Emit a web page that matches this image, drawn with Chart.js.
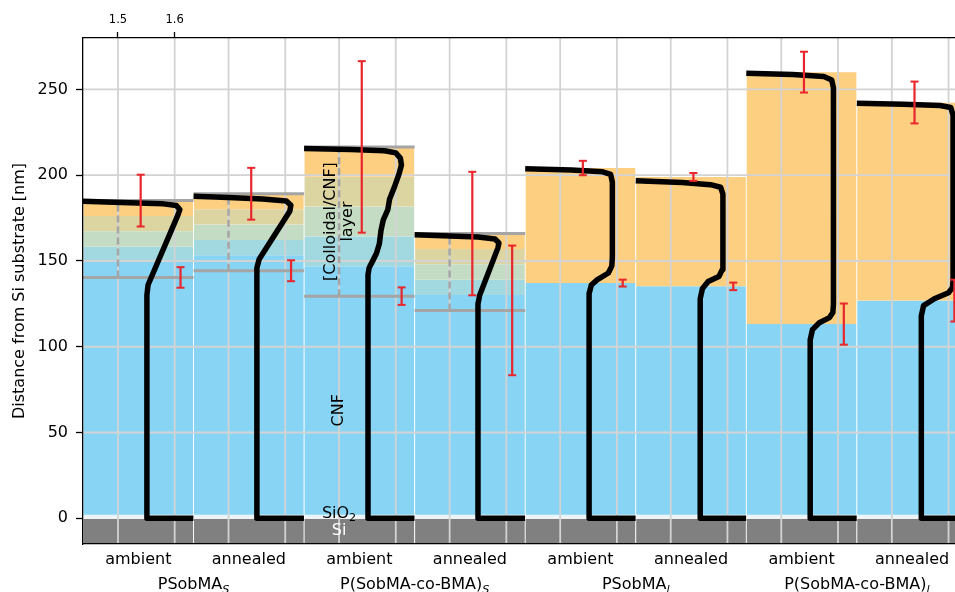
<!DOCTYPE html>
<html>
<head>
<meta charset="utf-8">
<script src="https://cdn.jsdelivr.net/npm/chart.js@4.4.0/dist/chart.umd.min.js"></script>
<style>
  html, body { margin: 0; padding: 0; background: #fff; overflow: hidden; }
  #wrap { width: 955px; height: 592px; }
</style>
</head>
<body>
<div id="wrap"><canvas id="profileChart" width="955" height="592"></canvas></div>
<script>
// one panel per sample, two conditions per polymer
const conditions = ['ambient', 'annealed', 'ambient', 'annealed', 'ambient', 'annealed', 'ambient', 'annealed'];
const polymers = ['PSobMA', 'P(SobMA-co-BMA)', 'PSobMA', 'P(SobMA-co-BMA)'];
const polymerSubs = ['S', 'S', 'l', 'l'];
const yTicks = [0, 50, 100, 150, 200, 250];
const nTicks = [1.5, 1.6];

// layer thicknesses in nm, with their errors
const cnfThick = [140.4, 144.3, 129.5, 121.2, 137.1, 135.2, 113.2, 126.9];
const cnfErr = [6.0, 6.1, 5.1, 37.8, 2.0, 2.2, 12.0, 12.2];
const totalThick = [185.2, 189.2, 216.5, 166.0, 204.2, 199.0, 260.1, 242.4];
const totalErr = [15.1, 15.1, 50.0, 36.0, 4.2, 2.3, 11.9, 12.2];
const graded = [true, true, true, true, false, false, false, false];
const sio2Thick = 2;

// refractive index profiles, [n, z in nm]
const prof1 = [[1.633, 0], [1.551, 0], [1.551, 130], [1.553, 136], [1.606, 177], [1.609, 180], [1.603, 182.3], [1.58, 183.3], [1.52, 184], [1.4383, 184.8]];
const prof2 = [[1.633, 0], [1.550, 0], [1.550, 146], [1.554, 151], [1.608, 179], [1.610, 182.5], [1.602, 185], [1.56, 186.2], [1.50, 187], [1.4383, 187.8]];
const prof3 = [[1.633, 0], [1.551, 0], [1.551, 142], [1.553, 146], [1.560, 150.5], [1.566, 154.5], [1.571, 160], [1.574, 168], [1.578, 174], [1.586, 180], [1.589, 186], [1.598, 193.5], [1.606, 201], [1.610, 206], [1.608, 210], [1.600, 213], [1.580, 214.3], [1.52, 215], [1.4383, 215.6]];
const prof4 = [[1.633, 0], [1.550, 0], [1.550, 125], [1.553, 130], [1.585, 157.5], [1.587, 160.5], [1.580, 162.8], [1.55, 164], [1.4383, 165.3]];
const prof5 = [[1.633, 0], [1.551, 0], [1.551, 131], [1.555, 136], [1.565, 139], [1.585, 143], [1.591, 147], [1.592, 152], [1.592, 196], [1.589, 200.5], [1.575, 202], [1.52, 203], [1.4383, 203.8]];
const prof6 = [[1.633, 0], [1.552, 0], [1.552, 128], [1.556, 134], [1.566, 138], [1.585, 141], [1.591, 145], [1.592, 150], [1.592, 189], [1.588, 193], [1.57, 194.5], [1.52, 195.8], [1.4383, 196.8]];
const prof7 = [[1.633, 0], [1.551, 0], [1.551, 104], [1.555, 110], [1.567, 114], [1.585, 117], [1.591, 120], [1.592, 125], [1.592, 251], [1.589, 255.5], [1.575, 257.5], [1.52, 258.7], [1.4383, 259.4]];
const prof8 = [[1.633, 0], [1.552, 0], [1.552, 118], [1.556, 124], [1.575, 128], [1.600, 131.5], [1.607, 134.5], [1.608, 139], [1.608, 235], [1.604, 239.5], [1.585, 240.6], [1.52, 241.4], [1.4383, 242]];
const profiles = [prof1, prof2, prof3, prof4, prof5, prof6, prof7, prof8];

// panel geometry on the index axis
const N0 = 1.4383;      // index at the left edge of every panel
const NW = 0.19497;     // index span of one panel
const X_MAX = 2.9762;
const Y_MIN = -15, Y_MAX = 280;
const TOP_BAR_N = 1.540, CNF_BAR_N = 1.6103;

// CNF blue up to layer orange, five steps for the graded layers
const bandColors = ['#87d4f5', '#a2d9e0', '#c3dcc3', '#dcd5a2', '#fdcf80'];
const CNF_COLOR = bandColors[0];
const LAYER_COLOR = bandColors[4];
const SI_COLOR = '#808080';
const SIO2_COLOR = '#eaf5fb';
const GRAY = '#a5a5a5';
const RED = '#e8262b';
const FONT = "'DejaVu Sans', sans-serif";

const left = i => N0 + i * NW;
const center = i => N0 + (i + 0.5) * NW;

// stacked fills of each panel
const fills = [];
conditions.forEach((_, i) => {
  const xc = center(i);
  fills.push({ x: xc, lo: Y_MIN, hi: 0, color: SI_COLOR });
  fills.push({ x: xc, lo: 0, hi: sio2Thick, color: SIO2_COLOR });
  fills.push({ x: xc, lo: sio2Thick, hi: cnfThick[i], color: CNF_COLOR });
  if (graded[i]) {
    const h = (totalThick[i] - cnfThick[i]) / bandColors.length;
    bandColors.forEach((c, k) => {
      fills.push({ x: xc, lo: cnfThick[i] + k * h, hi: cnfThick[i] + (k + 1) * h, color: c });
    });
  } else {
    fills.push({ x: xc, lo: cnfThick[i], hi: totalThick[i], color: LAYER_COLOR });
  }
});

const grayLines = [], grayDashes = [];
conditions.forEach((_, i) => {
  if (!graded[i]) return;
  [cnfThick[i], totalThick[i]].forEach(z => {
    grayLines.push({ x: left(i), y: z }, { x: left(i + 1), y: z }, { x: left(i + 1), y: null });
  });
  grayDashes.push({ x: 1.5 + i * NW, y: cnfThick[i] }, { x: 1.5 + i * NW, y: totalThick[i] }, { x: 1.5 + i * NW, y: null });
});

const profilePts = [];
profiles.forEach((p, i) => {
  p.forEach(([n, z]) => profilePts.push({ x: n + i * NW, y: z }));
  profilePts.push({ x: left(i + 1), y: null });
});

const stems = [], caps = [];
conditions.forEach((_, i) => {
  [[TOP_BAR_N, totalThick[i], totalErr[i]], [CNF_BAR_N, cnfThick[i], cnfErr[i]]].forEach(([n, m, e]) => {
    const x = n + i * NW;
    stems.push({ x, y: m - e }, { x, y: m + e }, { x, y: null });
    caps.push({ x, y: m - e }, { x, y: m + e });
  });
});

// grid goes over the fills but under every line
const gridPlugin = {
  id: 'gridOverFills',
  afterDatasetDraw(chart, args) {
    if (args.meta.type !== 'bar') return;
    const { ctx, chartArea: a, scales: { x, y } } = chart;
    ctx.save();
    ctx.beginPath();
    ctx.rect(a.left, a.top, a.right - a.left, a.bottom - a.top);
    ctx.clip();
    ctx.strokeStyle = '#d3d3d3';
    ctx.lineWidth = 1.8;
    yTicks.filter(v => v > 0).forEach(v => {
      const py = y.getPixelForValue(v);
      ctx.beginPath(); ctx.moveTo(a.left, py); ctx.lineTo(a.right, py); ctx.stroke();
    });
    conditions.forEach((_, i) => nTicks.forEach(n => {
      const px = x.getPixelForValue(n + i * NW);
      ctx.beginPath(); ctx.moveTo(px, a.top); ctx.lineTo(px, a.bottom); ctx.stroke();
    }));
    ctx.restore();
  }
};

function textWithSub(ctx, main, sub, cx, baseY, size, italicSub) {
  const mainFont = `${size}px ${FONT}`;
  const subFont = `${italicSub ? 'italic ' : ''}${size * 0.7}px ${FONT}`;
  ctx.font = mainFont;
  const w1 = ctx.measureText(main).width;
  ctx.font = subFont;
  const w2 = ctx.measureText(sub).width;
  const x0 = cx - (w1 + w2) / 2;
  ctx.textAlign = 'left';
  ctx.textBaseline = 'alphabetic';
  ctx.font = mainFont;
  ctx.fillText(main, x0, baseY);
  ctx.font = subFont;
  ctx.fillText(sub, x0 + w1, baseY + size * 0.24);
}

const labelPlugin = {
  id: 'labels',
  afterDatasetsDraw(chart) {
    const { ctx, scales: { x, y } } = chart;
    const lx = x.getPixelForValue(1.5 + 2 * NW);
    ctx.save();
    ctx.fillStyle = '#000';
    textWithSub(ctx, 'SiO', '2', lx, y.getPixelForValue(0.4), 16, false);
    ctx.fillStyle = '#fff';
    ctx.font = `16px ${FONT}`;
    ctx.textAlign = 'center';
    ctx.textBaseline = 'alphabetic';
    ctx.fillText('Si', lx, y.getPixelForValue(-9.7));
    ctx.fillStyle = '#000';
    ctx.textBaseline = 'middle';
    ctx.translate(lx, y.getPixelForValue(173));
    ctx.rotate(-Math.PI / 2);
    ctx.fillText('[Colloidal/CNF]', 0, -8.5);
    ctx.fillText('layer', 0, 8.5);
    ctx.restore();
    ctx.save();
    ctx.fillStyle = '#000';
    ctx.font = `16px ${FONT}`;
    ctx.textAlign = 'center';
    ctx.textBaseline = 'middle';
    ctx.translate(lx, y.getPixelForValue(63));
    ctx.rotate(-Math.PI / 2);
    ctx.fillText('CNF', 0, 0);
    ctx.restore();
  },
  afterDraw(chart) {
    const { ctx, scales: { x } } = chart;
    ctx.save();
    ctx.fillStyle = '#000';
    polymers.forEach((p, k) => {
      textWithSub(ctx, p, polymerSubs[k], x.getPixelForValue(N0 + (2 * k + 1) * NW), 589, 16, true);
    });
    ctx.restore();
  }
};

Chart.defaults.font.family = FONT;
Chart.defaults.font.size = 16;
Chart.defaults.color = '#000';

new Chart(document.getElementById('profileChart'), {
  type: 'bar',
  data: {
    datasets: [
      {
        type: 'bar',
        data: fills.map(f => ({ x: f.x, y: [f.lo, f.hi] })),
        backgroundColor: fills.map(f => f.color),
        borderColor: '#ffffff',
        borderWidth: { left: 0.8, right: 0.8, top: 0, bottom: 0 },
        borderSkipped: false,
        barPercentage: 1,
        categoryPercentage: 1,
        grouped: false,
        order: 5
      },
      {
        type: 'line', data: grayLines, borderColor: GRAY, borderWidth: 3,
        pointRadius: 0, spanGaps: false, order: 4, clip: 0
      },
      {
        type: 'line', data: grayDashes, borderColor: GRAY, borderWidth: 2.5, borderDash: [7, 4],
        pointRadius: 0, spanGaps: false, order: 4, clip: 0
      },
      {
        type: 'line', data: profilePts, borderColor: '#000', borderWidth: 5.5,
        borderJoinStyle: 'round', borderCapStyle: 'butt', tension: 0,
        pointRadius: 0, spanGaps: false, order: 3, clip: 0
      },
      {
        type: 'line', data: stems, borderColor: RED, borderWidth: 2.2,
        pointRadius: 0, spanGaps: false, order: 2, clip: 0
      },
      {
        type: 'line', data: caps, showLine: false, pointStyle: 'line', pointRadius: 4,
        pointBorderColor: RED, pointBackgroundColor: RED, pointBorderWidth: 2, order: 1, clip: 0
      }
    ]
  },
  options: {
    responsive: false,
    animation: false,
    devicePixelRatio: 1,
    events: [],
    layout: { padding: 0, autoPadding: false },
    plugins: { legend: { display: false }, tooltip: { enabled: false } },
    scales: {
      x: {
        type: 'linear', position: 'bottom', min: N0, max: X_MAX, offset: false,
        afterBuildTicks: s => { s.ticks = conditions.map((_, i) => ({ value: center(i) })); },
        afterFit: s => { s.height = 48; s.paddingLeft = 0; s.paddingRight = 0; },
        ticks: { autoSkip: false, maxRotation: 0, padding: 6, callback: (v, i) => conditions[i] },
        grid: { display: false, drawTicks: false, tickLength: 0, offset: false },
        border: { display: true, color: '#000', width: 1.3, z: 1 }
      },
      x2: {
        type: 'linear', position: 'top', min: N0, max: X_MAX, offset: false,
        afterBuildTicks: s => { s.ticks = nTicks.map(v => ({ value: v })); },
        afterFit: s => { s.height = 38; s.paddingLeft = 0; s.paddingRight = 0; },
        ticks: { autoSkip: false, maxRotation: 0, padding: 5, font: { size: 11.5 }, callback: v => v.toFixed(1) },
        grid: { drawOnChartArea: false, offset: false, tickLength: 6, tickColor: '#000', tickWidth: 1.3 },
        border: { color: '#000', width: 1.3, z: 1 }
      },
      y: {
        type: 'linear', min: Y_MIN, max: Y_MAX,
        afterBuildTicks: s => { s.ticks = yTicks.map(v => ({ value: v })); },
        afterFit: s => { s.width = 83; },
        ticks: { padding: 8 },
        grid: { drawOnChartArea: false, tickLength: 7, tickColor: '#000', tickWidth: 1.3 },
        border: { color: '#000', width: 1.3, z: 1 },
        title: {
          display: true, text: 'Distance from Si substrate [nm]',
          padding: { top: 10, bottom: 0 }
        }
      }
    }
  },
  plugins: [gridPlugin, labelPlugin]
});
</script>
</body>
</html>
